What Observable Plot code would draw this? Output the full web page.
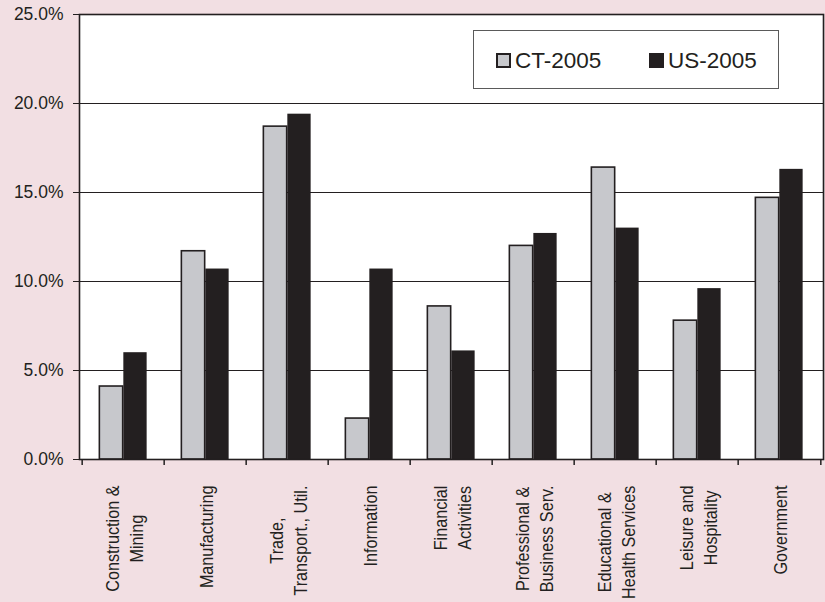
<!DOCTYPE html>
<html>
<head>
<meta charset="utf-8">
<script src="https://cdn.jsdelivr.net/npm/d3@7"></script>
<script src="https://cdn.jsdelivr.net/npm/@observablehq/plot@0.6"></script>
<style>
  html, body { margin: 0; padding: 0; background: #f2dfe3; }
  #wrap { position: relative; width: 825px; height: 602px; font-family: "Liberation Sans", Arial, sans-serif; }
  #legend { position: absolute; left: 473px; top: 30px; width: 306px; height: 59px; background: #fff; border: 1px solid #5a5a5a; box-sizing: border-box; }
  .lg-item { position: absolute; top: 0; height: 59px; display: flex; align-items: center; font-size: 22.5px; color: #231f20; }
  .lg-sw { width: 15px; height: 15px; box-sizing: border-box; margin-right: 4px; }
</style>
</head>
<body>
<div id="wrap"></div>
<script>
const categories = ["Construction &\nMining", "Manufacturing", "Trade,\nTransport., Util.", "Information", "Financial\nActivities", "Professional &\nBusiness Serv.", "Educational &\nHealth Services", "Leisure and\nHospitality", "Government"];
const series = ["CT-2005", "US-2005"];
const ct2005 = [4.1, 11.7, 18.7, 2.3, 8.6, 12.0, 16.4, 7.8, 14.7];
const us2005 = [6.0, 10.7, 19.4, 10.7, 6.1, 12.7, 13.0, 9.6, 16.3];
const yTicks = [0, 5, 10, 15, 20, 25];

const colors = {"CT-2005": "#c7c8cc", "US-2005": "#231f20"};
const ink = "#231f20";

const width = 825, height = 602;
const marginLeft = 79, marginRight = 2, marginTop = 14, marginBottom = 143;
const bw = (width - marginLeft - marginRight) / categories.length;
const barW = bw * 0.29;
const outer = (bw - 2 * barW) / 2;

const ctData = categories.map((c, i) => ({cat: c, v: ct2005[i]}));
const usData = categories.map((c, i) => ({cat: c, v: us2005[i]}));

const svg = Plot.plot({
  width, height, marginLeft, marginRight, marginTop, marginBottom,
  style: {background: "transparent", fontFamily: "'Liberation Sans', Arial, sans-serif", color: ink},
  x: {domain: categories, padding: 0, axis: null},
  y: {domain: [0, 25], ticks: yTicks, tickFormat: d => d.toFixed(1) + "%", tickSize: 6, tickPadding: 10, label: null},
  marks: [
    Plot.frame({fill: "#fff", stroke: "none"}),
    Plot.ruleY(yTicks.filter(d => d > 0 && d < 25), {stroke: ink, strokeWidth: 1}),
    Plot.barY(ctData, {x: "cat", y: "v", fill: colors["CT-2005"], stroke: ink, strokeWidth: 1.6, insetLeft: outer, insetRight: bw - outer - barW}),
    Plot.barY(usData, {x: "cat", y: "v", fill: colors["US-2005"], insetLeft: bw / 2, insetRight: outer}),
    Plot.ruleX(categories, {x: d => d, y1: 0, y2: 0, dx: -bw / 2, insetBottom: -6, stroke: ink, strokeWidth: 1.5}),
    Plot.ruleX(categories.slice(-1), {x: d => d, y1: 0, y2: 0, dx: bw / 2, insetBottom: -6, stroke: ink, strokeWidth: 1.5}),
    Plot.frame({stroke: ink, strokeWidth: 1.6}),
    Plot.text(categories, {x: d => d, text: d => d, frameAnchor: "bottom", rotate: -90, textAnchor: "middle", lineAnchor: "middle", lineHeight: 1.35, fontSize: 18, fill: ink})
  ]
});

const wrap = document.getElementById("wrap");
wrap.appendChild(svg);
const yax = svg.querySelector('g[aria-label="y-axis tick label"]');
if (yax) yax.setAttribute("font-size", "17.5");

// place rotated, condensed category labels: top of longest line at a fixed distance below the axis
const labelTop = 485, squeeze = 0.9;
svg.querySelectorAll('text').forEach(t => {
  const tr = t.getAttribute("transform") || "";
  if (!/rotate\(-90\)/.test(tr)) return;
  const spans = t.querySelectorAll("tspan");
  let W = 0;
  (spans.length ? Array.from(spans) : [t]).forEach(s => { W = Math.max(W, s.getComputedTextLength()); });
  W *= squeeze;
  const m = /translate\(([-\d.]+)[ ,]+([-\d.]+)\)/.exec(tr);
  if (m) t.setAttribute("transform", `translate(${m[1]},${labelTop + W / 2}) rotate(-90) scale(${squeeze},1)`);
});

// legend inside the plot area
const legend = document.createElement("div");
legend.id = "legend";
const lgX = [22, 175];
series.forEach((s, i) => {
  const item = document.createElement("div");
  item.className = "lg-item";
  item.style.left = lgX[i] + "px";
  const sw = document.createElement("div");
  sw.className = "lg-sw";
  sw.style.background = colors[s];
  sw.style.border = i === 0 ? "2px solid " + ink : "none";
  item.appendChild(sw);
  const tx = document.createElement("span");
  tx.textContent = s;
  item.appendChild(tx);
  legend.appendChild(item);
});
wrap.appendChild(legend);
</script>
</body>
</html>
